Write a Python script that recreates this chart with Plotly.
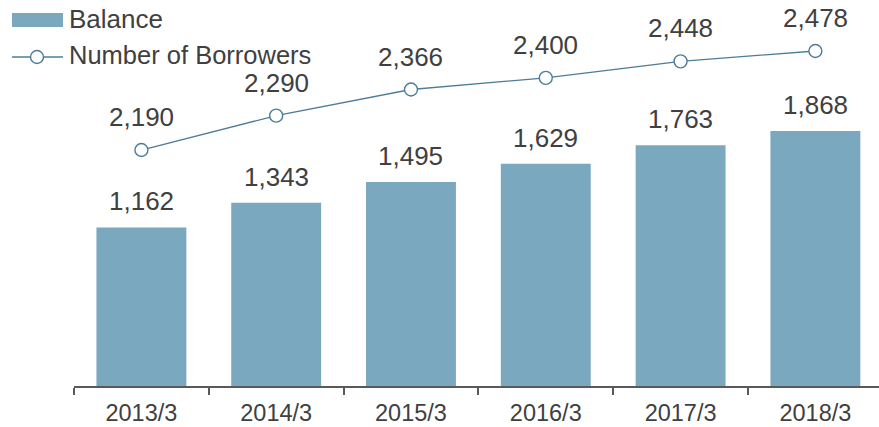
import plotly.graph_objects as go

# Fiscal year-end categories
years = ["2013/3", "2014/3", "2015/3", "2016/3", "2017/3", "2018/3"]
# Outstanding balance (bars, left axis)
balance = [1162, 1343, 1495, 1629, 1763, 1868]
# Number of borrowers (line, right axis)
borrowers = [2190, 2290, 2366, 2400, 2448, 2478]

BAR_COLOR = "#7AA8BF"
LINE_COLOR = "#4D7C98"
TEXT_COLOR = "#404040"
FONT = "Liberation Sans, Arial, sans-serif"

W, H = 879, 427
ML, MB = 74, 41
PW, PH = W - ML, H - MB

fig = go.Figure()
fig.add_trace(go.Bar(
    x=years, y=balance, name="Balance",
    marker=dict(color=BAR_COLOR, line=dict(width=0)),
    hoverinfo="x+y",
))
fig.add_trace(go.Scatter(
    x=years, y=borrowers, name="Number of Borrowers", yaxis="y2",
    mode="lines+markers",
    line=dict(color=LINE_COLOR, width=1.3),
    marker=dict(symbol="circle", size=13, color="white",
                line=dict(color=LINE_COLOR, width=1.4)),
))

annotations = []
for x, v in zip(years, balance):
    annotations.append(dict(
        x=x, y=v, xref="x", yref="y", text=f"{v:,}", showarrow=False,
        yanchor="bottom", yshift=9, font=dict(size=26, color=TEXT_COLOR, family=FONT),
    ))
for x, v in zip(years, borrowers):
    annotations.append(dict(
        x=x, y=v, xref="x", yref="y2", text=f"{v:,}", showarrow=False,
        yanchor="bottom", yshift=16, font=dict(size=26, color=TEXT_COLOR, family=FONT),
    ))


def px_x(p):
    return (p - ML) / PW


def px_y(p):
    return (PH - p) / PH


# Hand-drawn legend in the top-left corner
shapes = [
    dict(type="rect", xref="paper", yref="paper",
         x0=px_x(12), x1=px_x(63), y0=px_y(27), y1=px_y(13),
         fillcolor=BAR_COLOR, line=dict(width=0)),
    dict(type="line", xref="paper", yref="paper",
         x0=px_x(12), x1=px_x(63), y0=px_y(57), y1=px_y(57),
         line=dict(color=LINE_COLOR, width=1.3)),
    dict(type="circle", xref="paper", yref="paper",
         xsizemode="pixel", ysizemode="pixel",
         xanchor=px_x(37), yanchor=px_y(57),
         x0=-6.5, x1=6.5, y0=-6.5, y1=6.5,
         fillcolor="white", line=dict(color=LINE_COLOR, width=1.4)),
]
annotations += [
    dict(x=px_x(67), y=px_y(19), xref="paper", yref="paper", text="Balance",
         showarrow=False, xanchor="left", yanchor="middle",
         font=dict(size=26, color=TEXT_COLOR, family=FONT)),
    dict(x=px_x(67), y=px_y(55), xref="paper", yref="paper", text="Number of Borrowers",
         showarrow=False, xanchor="left", yanchor="middle",
         font=dict(size=25.5, color=TEXT_COLOR, family=FONT)),
]

fig.update_layout(
    width=W, height=H,
    margin=dict(l=ML, r=0, t=0, b=MB, pad=0),
    paper_bgcolor="white", plot_bgcolor="white",
    showlegend=False,
    bargap=0.333,
    font=dict(family=FONT, color=TEXT_COLOR),
    xaxis=dict(
        type="category", range=[-0.5, 5.472],
        showline=True, linecolor="#595959", linewidth=1.5,
        ticks="outside", tickson="boundaries", ticklen=7, tickwidth=1.5, tickcolor="#595959",
        tickfont=dict(size=23.5, color=TEXT_COLOR, family=FONT),
        ticklabelstandoff=5,
        showgrid=False, zeroline=False,
    ),
    yaxis=dict(range=[0, 2828], visible=False, showgrid=False, zeroline=False),
    yaxis2=dict(range=[1503.5, 2626.4], overlaying="y", side="right",
                visible=False, showgrid=False, zeroline=False),
    shapes=shapes,
    annotations=annotations,
)

fig.write_html("out.html")
